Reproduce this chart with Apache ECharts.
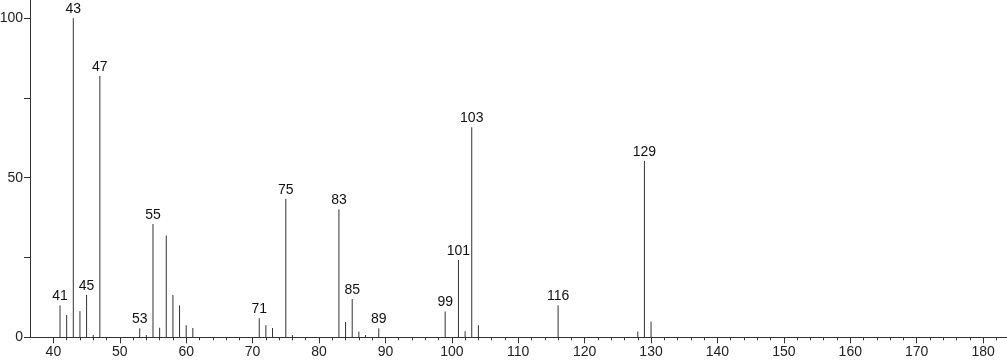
<!DOCTYPE html>
<html>
<head>
<meta charset="utf-8">
<script src="https://cdn.jsdelivr.net/npm/echarts@6/dist/echarts.min.js"></script>
<style>
html,body{margin:0;padding:0;background:#fff;}
#c{width:1007px;height:362px;}
</style>
</head>
<body>
<div id="c"></div>
<script>
// m/z values and relative intensities
var mz = [41, 42, 43, 44, 45, 46, 47, 53, 54, 55, 56, 57, 58, 59, 60, 61,
          71, 72, 73, 75, 76, 83, 84, 85, 86, 87, 89,
          99, 101, 102, 103, 104, 116, 128, 129, 130];
var intensity = [10.0, 7.0, 100, 8.2, 13.3, 0.7, 81.9, 2.8, 0.7, 35.5, 3.0, 31.9, 13.3, 10.0, 3.8, 2.9,
                 6.0, 3.8, 2.9, 43.4, 0.7, 40.1, 4.8, 12.0, 1.8, 0.7, 2.8,
                 8.1, 24.2, 1.9, 65.8, 3.8, 10.0, 1.8, 55.3, 4.9];
var labeledPeaks = [41, 43, 45, 47, 53, 55, 71, 75, 83, 85, 89, 99, 101, 103, 116, 129];
var xTickLabels = [40, 50, 60, 70, 80, 90, 100, 110, 120, 130, 140, 150, 160, 170, 180];
var xMinorTicks = [42, 44, 46, 48, 52, 54, 56, 58, 62, 64, 66, 68, 72, 74, 76, 78, 82, 84, 86, 88,
                   92, 94, 96, 98, 102, 104, 106, 108, 112, 114, 116, 118, 122, 124, 126, 128,
                   132, 134, 136, 138, 142, 144, 146, 148, 152, 154, 156, 158, 162, 164, 166, 168,
                   172, 174, 176, 178, 182];
var yTickLabels = [0, 50, 100];
var yTicks = [0, 25, 50, 75, 100];

var FONT = 'Liberation Sans, Arial, sans-serif';
var data = mz.map(function (m, i) {
  return [m, intensity[i], labeledPeaks.indexOf(m) >= 0 ? 1 : 0];
});

var chart = echarts.init(document.getElementById('c'), null, { renderer: 'canvas' });
chart.setOption({
  animation: false,
  backgroundColor: '#fff',
  grid: { left: 30, right: 0, top: 0, bottom: 24.7, containLabel: false, outerBoundsMode: 'none' },
  xAxis: [{
    type: 'value', min: 36.48, max: 183.6,
    splitLine: { show: false },
    axisLine: { show: true, onZero: false, lineStyle: { color: '#333', width: 1 } },
    axisTick: { show: true, length: 6, lineStyle: { color: '#333' }, customValues: xTickLabels },
    axisLabel: { show: true, customValues: xTickLabels, margin: 8, color: '#222', fontSize: 14, fontFamily: FONT },
    minorTick: { show: false }
  }, {
    type: 'value', min: 36.48, max: 183.6, position: 'bottom',
    splitLine: { show: false },
    axisLine: { show: false, onZero: false },
    axisTick: { show: true, length: 3, lineStyle: { color: '#333' }, customValues: xMinorTicks },
    axisLabel: { show: false }
  }],
  yAxis: {
    type: 'value', min: 0, max: 105.7,
    splitLine: { show: false },
    axisLine: { show: true, lineStyle: { color: '#333', width: 1 } },
    axisTick: { show: true, length: 6, lineStyle: { color: '#333' }, customValues: yTicks },
    axisLabel: { show: true, customValues: yTickLabels, margin: 7, color: '#222', fontSize: 14, fontFamily: FONT }
  },
  series: [{
    type: 'custom',
    xAxisIndex: 0,
    yAxisIndex: 0,
    clip: false,
    encode: { x: 0, y: 1 },
    renderItem: function (params, api) {
      var x = api.value(0), y = api.value(1), lab = api.value(2);
      var p0 = api.coord([x, 0]);
      var p1 = api.coord([x, y]);
      var children = [{
        type: 'line',
        shape: { x1: p0[0], y1: p0[1], x2: p1[0], y2: p1[1] },
        style: { stroke: '#333', lineWidth: 1 }
      }];
      if (lab) {
        children.push({
          type: 'text',
          style: {
            text: String(x), x: p1[0], y: p1[1] - 2,
            align: 'center', verticalAlign: 'bottom',
            font: '14px ' + FONT, fill: '#111'
          }
        });
      }
      return { type: 'group', children: children };
    },
    data: data
  }]
});
</script>
</body>
</html>
